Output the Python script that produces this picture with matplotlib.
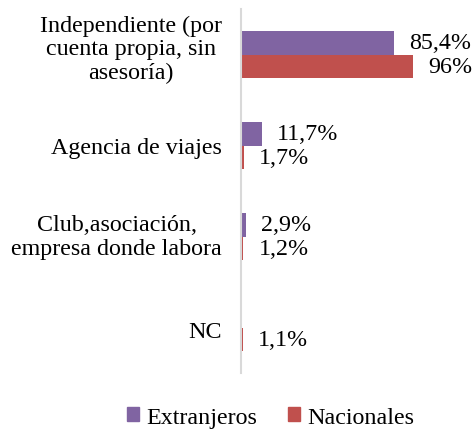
import numpy as np
import matplotlib.pyplot as plt
import matplotlib.transforms as mtransforms
from matplotlib.patches import Patch

categories = ["Independiente (por\ncuenta propia, sin\nasesoría)",
              "Agencia de viajes",
              "Club,asociación,\nempresa donde labora",
              "NC"]
extranjeros = [85.4, 11.7, 2.9, 0.0]
nacionales = [96.0, 1.7, 1.2, 1.1]
lbl_ext = ["85,4%", "11,7%", "2,9%", ""]
lbl_nac = ["96%", "1,7%", "1,2%", "1,1%"]

purple = "#8064A2"
red = "#C0504D"
fs = 17.3

plt.rc('font', family='Liberation Serif', size=fs)
fig = plt.figure(figsize=(4.73, 4.35), dpi=100)
ax = fig.add_axes([241 / 473, 1 - 374 / 435, 219 / 473, 364 / 435])

y = np.arange(len(categories))
h = 0.255
ax.barh(y - h / 2, extranjeros, height=h, color=purple, label="Extranjeros")
ax.barh(y + h / 2, nacionales, height=h, color=red, label="Nacionales")

for i in range(len(categories)):
    if lbl_ext[i]:
        ax.annotate(lbl_ext[i], (extranjeros[i], y[i] - h / 2), xytext=(11, 0),
                    textcoords='offset points', va='center', ha='left')
    ax.annotate(lbl_nac[i], (nacionales[i], y[i] + h / 2), xytext=(11, 0),
                textcoords='offset points', va='center', ha='left')

ax.set_xlim(0, 122)
ax.set_ylim(3.5, -0.5)
ax.set_xticks([])
ax.set_yticks([])

# category labels, right aligned left of the axis, lines centred
lab_shift = [6, -2, 0, -4]  # small vertical nudges in pixels (up is positive)
trans = mtransforms.blended_transform_factory(ax.transAxes, ax.transData)
for i, cat in enumerate(categories):
    off = mtransforms.ScaledTranslation(-19 / 100, lab_shift[i] / 100, fig.dpi_scale_trans)
    ax.text(0, y[i], cat, transform=trans + off, ha='right', va='center',
            multialignment='center', linespacing=1.15)

for s in ['top', 'right', 'bottom']:
    ax.spines[s].set_visible(False)
ax.spines['left'].set_color('#D9D9D9')
ax.spines['left'].set_linewidth(1.5)

handles = [Patch(color=purple, label="Extranjeros"), Patch(color=red, label="Nacionales")]
fig.legend(handles=handles, loc='lower center', bbox_to_anchor=(0.572, -0.035), ncol=2,
           frameon=False, handlelength=0.5, handleheight=0.5, handletextpad=0.3,
           columnspacing=1.3)

fig.savefig("out.png", dpi=100)
